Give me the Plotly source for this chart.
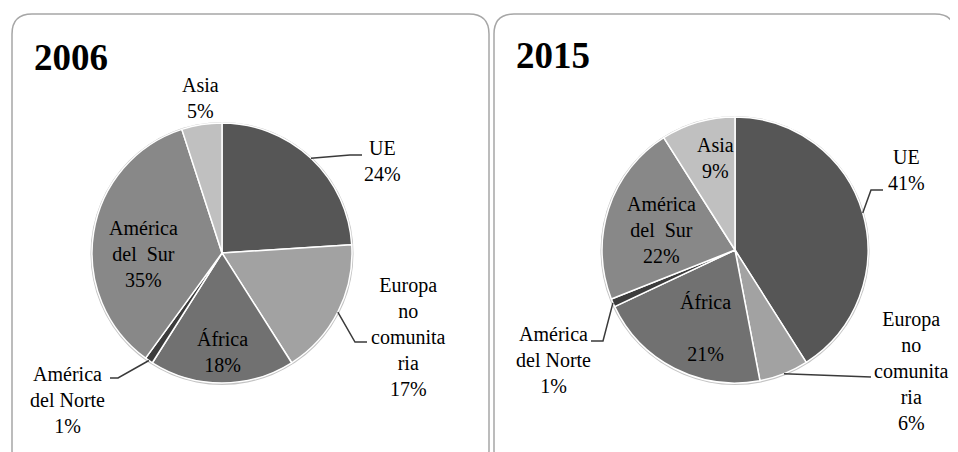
import math
import plotly.graph_objects as go

# page body has an 8px margin, so the figure is drawn 8px in from the window edge
OFF = 8
W, H = 958 - OFF, 452 - OFF

# ---------------- data ----------------
categories = ["UE", "Europa no comunitaria", "África", "América del Norte", "América del Sur", "Asia"]
values_2006 = [24, 17, 18, 1, 35, 5]
values_2015 = [41, 6, 21, 1, 22, 9]
years = ["2006", "2015"]
# how each category name is broken over lines in the labels
label_names = ["UE", "Europa<br>no<br>comunita<br>ria", "África", "América<br>del Norte",
               "América<br>del\u00a0\u00a0Sur", "Asia"]

# ---------------- style / layout ----------------
slice_colors = ["#565656", "#a2a2a2", "#717171", "#3c3c3c", "#888888", "#c0c0c0"]
FONT = "Liberation Serif, Times New Roman, serif"
TXT = "#000000"

panels = [
    dict(values=values_2006, year=years[0], cx=222, cy=253, r=130,
         box=(12, 14, 489, 470), title_xy=(71, 58),
         label_xy=[(382, 160.5), (408, 337), (222, 351.5), (67, 400), (143, 254), (200, 97.5)],
         africa_gap=False,
         leaders={0: [(350, 155), (362, 155)], 1: [(355, 342), (367, 342)], 3: [(118, 378), (110, 378)]}),
    dict(values=values_2015, year=years[1], cx=735, cy=250, r=133,
         box=(494, 14, 955, 470), title_xy=(553, 55),
         label_xy=[(906, 170), (911, 371), (705, 328), (553, 360), (661, 230), (715, 157.5)],
         africa_gap=True,
         leaders={0: [(871, 190), (883, 190)], 1: [(871, 377)], 3: [(603, 341), (591, 341)]}),
]


def px(x):
    return (x - OFF) / W


def py(y):
    return 1 - (y - OFF) / H


fig = go.Figure()
shapes = []
annotations = []

for p in panels:
    vals = p["values"]
    cx, cy, r = p["cx"], p["cy"], p["r"]
    # rounded panel box
    x0, y0, x1, y1 = p["box"]
    rr = 20
    path = (f"M {px(x0+rr)},{py(y0)} L {px(x1-rr)},{py(y0)} "
            f"Q {px(x1)},{py(y0)} {px(x1)},{py(y0+rr)} L {px(x1)},{py(y1-rr)} "
            f"Q {px(x1)},{py(y1)} {px(x1-rr)},{py(y1)} L {px(x0+rr)},{py(y1)} "
            f"Q {px(x0)},{py(y1)} {px(x0)},{py(y1-rr)} L {px(x0)},{py(y0+rr)} "
            f"Q {px(x0)},{py(y0)} {px(x0+rr)},{py(y0)} Z")
    shapes.append(dict(type="path", path=path, xref="paper", yref="paper",
                       line=dict(color="#a6a6a6", width=1.5), fillcolor="white", layer="below"))
    # soft rim behind the pie
    shapes.append(dict(type="circle", xref="paper", yref="paper",
                       x0=px(cx - r - 1.5), x1=px(cx + r + 1.5), y0=py(cy + r + 2), y1=py(cy - r - 1),
                       line=dict(width=0), fillcolor="#c4c4c4", layer="below"))

    fig.add_trace(go.Pie(
        labels=categories, values=vals, sort=False, direction="clockwise", rotation=0,
        textinfo="none", hoverinfo="label+percent",
        marker=dict(colors=slice_colors, line=dict(color="white", width=1.5)),
        domain=dict(x=[px(cx - r), px(cx + r)], y=[py(cy + r), py(cy - r)]),
        showlegend=False,
    ))

    # title
    annotations.append(dict(text=f"<b>{p['year']}</b>", x=px(p["title_xy"][0]), y=py(p["title_xy"][1]),
                            xref="paper", yref="paper", showarrow=False, xanchor="center", yanchor="middle",
                            font=dict(family=FONT, size=37, color="black")))

    total = sum(vals)
    cum = 0
    for i, v in enumerate(vals):
        mid = (cum + v / 2) / total * 2 * math.pi
        cum += v
        name = label_names[i]
        sep = "<br><br>" if (i == 2 and p["africa_gap"]) else "<br>"
        lx, ly = p["label_xy"][i]
        annotations.append(dict(text=f"{name}{sep}{v}%", x=px(lx), y=py(ly), xref="paper", yref="paper",
                                showarrow=False, xanchor="center", yanchor="middle", align="center",
                                font=dict(family=FONT, size=20, color=TXT)))
        if i in p["leaders"]:
            ex, ey = cx + r * math.sin(mid), cy - r * math.cos(mid)
            pts = [(ex, ey)] + p["leaders"][i]
            d = "M " + " L ".join(f"{px(a)},{py(b)}" for a, b in pts)
            shapes.append(dict(type="path", path=d, xref="paper", yref="paper",
                               line=dict(color="#3a3a3a", width=1.5)))

fig.update_layout(
    width=W, height=H, autosize=False,
    margin=dict(l=0, r=0, t=0, b=0),
    paper_bgcolor="white", plot_bgcolor="white",
    shapes=shapes, annotations=annotations,
    font=dict(family=FONT),
)

fig.write_html("out.html")
